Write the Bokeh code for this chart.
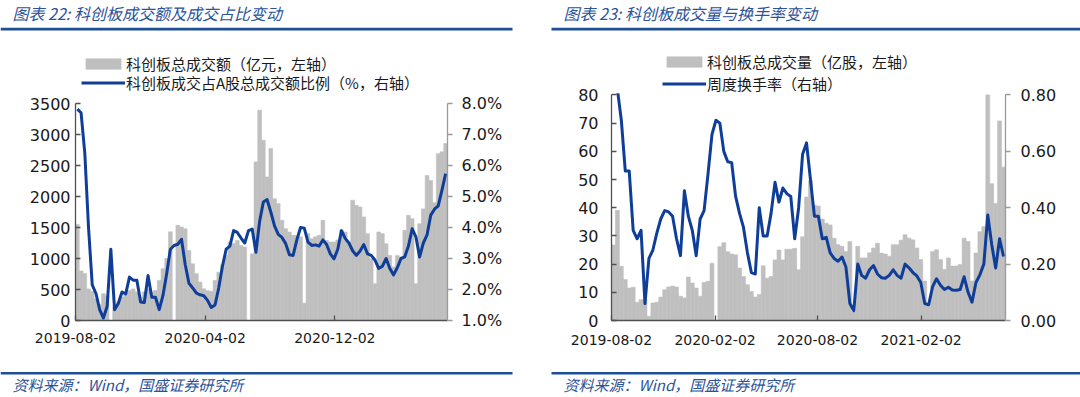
import pandas as pd
from bokeh.plotting import figure
from bokeh.models import (Range1d, LinearAxis, FixedTicker, PrintfTickFormatter,
                          DatetimeTickFormatter, Legend, LegendItem, Label,
                          BoxAnnotation, ColumnDataSource)
from bokeh.layouts import column, row
from bokeh.embed import file_html
from bokeh.resources import INLINE

# ---------------- data ----------------
start_date = "2019-08-02"   # first weekly observation

# 图表22: 科创板总成交额（亿元）
star_amount = [
    1550, 800, 760, 510, 470, 350, 260, 430, 400, 0,
    215, 300, 380, 460, 485, 510, 460, 380, 460, 510,
    460, 485, 646, 835, 1000, 1430, 0, 1535, 1508, 1480,
    1130, 915, 754, 620, 511, 480, 470, 646, 780, 900,
    1050, 1265, 1240, 1290, 1210, 1185, 0, 1077, 2558, 3392,
    2908, 2315, 2773, 1965, 1885, 1615, 1480, 1427, 1373, 1373,
    1350, 280, 1400, 1320, 1350, 1373, 1615, 1290, 1265, 1265,
    1300, 1454, 1427, 1265, 1940, 1858, 1830, 1670, 1400, 996,
    592, 1427, 1400, 1238, 1050, 862, 1050, 1023, 1454, 1696,
    1642, 592, 1560, 1800, 2340, 2260, 1900, 2690, 2720, 2854,
]
# 科创板成交占A股总成交额比例（%）
star_share_pct = [
    7.82, 7.70, 6.40, 4.00, 2.15, 1.87, 1.35, 1.08, 1.45, 3.30,
    1.35, 1.55, 1.92, 1.86, 2.40, 2.30, 2.30, 1.60, 1.58, 2.45,
    1.75, 1.75, 1.35, 1.80, 2.50, 3.30, 3.42, 3.46, 3.62, 2.80,
    2.20, 2.05, 1.88, 1.83, 1.80, 1.65, 1.42, 1.50, 2.05, 2.75,
    3.30, 3.40, 3.90, 3.84, 3.66, 3.50, 3.90, 3.95, 3.20, 4.20,
    4.82, 4.90, 4.50, 4.05, 3.78, 3.68, 3.48, 3.12, 3.10, 3.60,
    4.00, 3.98, 3.53, 3.42, 3.44, 3.40, 3.60, 3.45, 3.15, 2.99,
    3.30, 3.90, 3.65, 3.50, 3.25, 3.10, 3.24, 3.45, 3.15, 3.10,
    2.95, 2.68, 2.75, 3.00, 2.68, 2.47, 2.70, 3.00, 3.05, 3.40,
    3.96, 3.70, 3.05, 3.50, 3.76, 4.40, 4.59, 4.70, 5.20, 5.74,
]

# 图表23: 科创板总成交量（亿股）
star_volume = [
    26.8, 39.1, 19.2, 14.5, 11.5, 11.8, 6.5, 7.4, 7.6, 1.5,
    6.2, 6.5, 8.3, 10.9, 11.9, 12.2, 11.9, 8.6, 8.0, 15.4,
    13.3, 11.5, 8.6, 13.5, 13.9, 20.3, 0.0, 26.2, 27.6, 24.4,
    23.6, 23.3, 18.6, 15.6, 12.7, 10.3, 8.3, 9.2, 19.4, 15.0,
    15.6, 21.5, 25.0, 21.5, 25.3, 25.3, 25.6, 18.0, 29.7, 43.8,
    49.6, 40.9, 40.6, 36.0, 34.5, 33.9, 29.2, 26.9, 26.3, 24.5,
    28.0, 3.0, 26.3, 22.2, 22.2, 24.0, 25.7, 27.4, 23.9, 23.6,
    22.8, 26.9, 26.9, 28.5, 30.4, 29.2, 28.6, 25.7, 21.6, 14.0,
    5.8, 24.5, 25.1, 21.6, 18.1, 22.2, 19.3, 19.3, 19.9, 29.2,
    28.0, 14.0, 23.9, 31.5, 33.3, 80.0, 48.5, 41.5, 70.8, 54.4,
]
# 周度换手率
weekly_turnover = [
    0.95, 0.82, 0.71, 0.53, 0.53, 0.32, 0.29, 0.32, 0.06, 0.22,
    0.25, 0.31, 0.36, 0.39, 0.385, 0.37, 0.29, 0.23, 0.46, 0.37,
    0.32, 0.23, 0.36, 0.39, 0.52, 0.66, 0.71, 0.70, 0.60, 0.563,
    0.56, 0.44, 0.38, 0.33, 0.24, 0.17, 0.165, 0.40, 0.30, 0.30,
    0.38, 0.49, 0.42, 0.47, 0.45, 0.44, 0.29, 0.40, 0.59, 0.63,
    0.50, 0.37, 0.37, 0.29, 0.295, 0.24, 0.22, 0.21, 0.225, 0.19,
    0.06, 0.035, 0.20, 0.16, 0.15, 0.18, 0.195, 0.165, 0.152, 0.15,
    0.16, 0.18, 0.16, 0.15, 0.20, 0.187, 0.17, 0.158, 0.135, 0.06,
    0.056, 0.12, 0.148, 0.125, 0.11, 0.118, 0.108, 0.107, 0.11, 0.155,
    0.10, 0.065, 0.135, 0.162, 0.20, 0.374, 0.27, 0.186, 0.29, 0.227,
]

left_x_ticks = ["2019-08-02", "2020-04-02", "2020-12-02"]
right_x_ticks = ["2019-08-02", "2020-02-02", "2020-08-02", "2021-02-02"]
amount_ticks = [0, 500, 1000, 1500, 2000, 2500, 3000, 3500]
share_ticks = [1, 2, 3, 4, 5, 6, 7, 8]
volume_ticks = [0, 10, 20, 30, 40, 50, 60, 70, 80]
turnover_ticks = [0.0, 0.2, 0.4, 0.6, 0.8]

title_left = "图表 22:  科创板成交额及成交占比变动"
title_right = "图表 23:  科创板成交量与换手率变动"
legend_left = ["科创板总成交额（亿元，左轴）", "科创板成交占A股总成交额比例（%，右轴）"]
legend_right = ["科创板总成交量（亿股，左轴）", "周度换手率（右轴）"]
source_note = "资料来源：Wind，国盛证券研究所"

# ---------------- styles ----------------
GRAY = "#bfbfbf"
LINE_BLUE = "#0f3e99"
TEXT_BLUE = "#2c5298"
RULE_BLUE = "#1e4e94"
AXIS_DARK = "#505050"
AXIS_LIGHT = "#9a9a9a"
LABEL_COLOR = "#1a1a1a"
CJK = "Noto Sans CJK SC"
NUM_FONT = "DejaVu Sans"
COL_W = 540
CHART_H = 320
DAY_MS = 86400000.0


def to_ms(s):
    return pd.Timestamp(s).value / 1e6


def plain_fig(height):
    f = figure(width=COL_W, height=height, x_range=Range1d(0, COL_W),
               y_range=Range1d(0, height), output_backend="svg",
               toolbar_location=None, min_border=0, x_axis_location=None,
               y_axis_location=None, outline_line_color=None,
               background_fill_color="white", border_fill_color="white")
    f.grid.visible = False
    return f


def header(text, text_x, rule_l, rule_r):
    h = plain_fig(40)
    h.add_layout(Label(x=text_x, y=27.5, text=text, text_font=CJK,
                       text_font_style="italic", text_font_size="16px",
                       text_color=TEXT_BLUE, text_baseline="middle"))
    h.add_layout(BoxAnnotation(left=rule_l, right=rule_r, bottom=10, top=12.7,
                               fill_color=RULE_BLUE, fill_alpha=1,
                               line_color=None))
    return h


def footer(text, text_x, rule_l, rule_r):
    f = plain_fig(37)
    f.add_layout(BoxAnnotation(left=rule_l, right=rule_r, bottom=23, top=25.4,
                               fill_color=RULE_BLUE, fill_alpha=1,
                               line_color=None))
    f.add_layout(Label(x=text_x, y=13, text=text, text_font=CJK,
                       text_font_style="italic", text_font_size="15px",
                       text_color=TEXT_BLUE, text_baseline="middle"))
    return f


def make_legend(label, renderer, loc):
    return Legend(items=[LegendItem(label=label, renderers=[renderer])],
                  location=loc, orientation="vertical",
                  border_line_color=None, background_fill_alpha=0,
                  label_text_font=CJK, label_text_font_size="15px",
                  label_text_color=LABEL_COLOR,
                  glyph_width=44, glyph_height=13, label_height=20,
                  label_standoff=1, padding=0, margin=0, spacing=0)


def chart(bars, line, y_max, y_ticks, r_range, r_ticks, r_fmt, x_ticks,
          labels, borders, plot_top, legend_locs, left_standoff,
          right_standoff, x_standoff):
    weeks = pd.date_range(start_date, periods=len(bars), freq="7D")
    centers = weeks + pd.Timedelta(days=3.5)
    src = ColumnDataSource(dict(x=centers, bar=bars, line=line))
    x0 = to_ms(start_date)
    x1 = x0 + 7 * len(bars) * DAY_MS
    bl, br, bt, bb = borders
    # the frame reaches up to the legend; axes are bounded at their maxima
    frame_h = CHART_H - bt - bb
    ext = frame_h / plot_top
    r_lo, r_hi = r_range
    p = figure(width=COL_W, height=CHART_H, x_axis_type="datetime",
               x_range=Range1d(x0, x1), y_range=Range1d(0, y_max * ext),
               output_backend="svg", toolbar_location=None,
               min_border_left=bl, min_border_right=br, min_border_top=bt,
               min_border_bottom=bb, outline_line_color=None,
               background_fill_color="white", border_fill_color="white")
    p.grid.visible = False
    p.extra_y_ranges = {"right": Range1d(r_lo, r_lo + (r_hi - r_lo) * ext)}
    raxis = LinearAxis(y_range_name="right", ticker=FixedTicker(ticks=r_ticks),
                       formatter=PrintfTickFormatter(format=r_fmt),
                       bounds=(r_lo, r_hi))
    p.add_layout(raxis, "right")

    rb = p.vbar(x="x", top="bar", width=7 * DAY_MS, source=src,
                fill_color=GRAY, line_color=GRAY, line_width=0.6)
    rl = p.line(x="x", y="line", source=src, y_range_name="right",
                line_color=LINE_BLUE, line_width=3, line_join="round")

    # plot area ends at the top tick: hide anything drawn above it
    p.add_layout(BoxAnnotation(bottom=y_max * 1.008, fill_color="white",
                               fill_alpha=1, line_color=None))

    la = p.left[0]
    la.ticker = FixedTicker(ticks=y_ticks)
    la.bounds = (0, y_max)
    la.major_tick_in = 5
    la.major_tick_out = 0
    la.major_label_standoff = left_standoff
    la.axis_line_color = AXIS_DARK
    la.major_tick_line_color = AXIS_DARK

    raxis.major_tick_in = 0
    raxis.major_tick_out = 5
    raxis.major_label_standoff = right_standoff
    raxis.axis_line_color = AXIS_LIGHT
    raxis.major_tick_line_color = AXIS_LIGHT

    xa = p.xaxis[0]
    xa.ticker = FixedTicker(ticks=[to_ms(d) for d in x_ticks])
    fmt = "%Y-%m-%d"
    xa.formatter = DatetimeTickFormatter(days=fmt, months=fmt, years=fmt,
                                         hours=fmt, hourmin=fmt)
    xa.major_tick_in = 5
    xa.major_tick_out = 0
    xa.major_label_standoff = x_standoff
    xa.axis_line_color = AXIS_DARK
    xa.major_tick_line_color = AXIS_DARK

    for ax in (la, raxis):
        ax.major_label_text_font = NUM_FONT
        ax.major_label_text_font_size = "16px"
    xa.major_label_text_font = NUM_FONT
    xa.major_label_text_font_size = "14px"
    for ax in (la, raxis, xa):
        ax.minor_tick_line_color = None
        ax.axis_line_width = 1.3
        ax.major_tick_line_width = 1.3
        ax.major_label_text_color = LABEL_COLOR

    p.add_layout(make_legend(labels[0], rb, legend_locs[0]))
    p.add_layout(make_legend(labels[1], rl, legend_locs[1]))
    return p


# borders: left, right, top, bottom (px); plot_top: px from frame bottom to top tick
left_chart = chart(star_amount, star_share_pct, 3500, amount_ticks, (1, 8),
                   share_ticks, "%.1f%%", left_x_ticks, legend_left,
                   (75, 93, 5, 40), 217, [(6, 246), (6, 227)], 5, 9, 12)
right_chart = chart(star_volume, weekly_turnover, 80, volume_ticks, (0, 0.8),
                    turnover_ticks, "%.2f", right_x_ticks, legend_right,
                    (71, 75, 5, 37), 228, [(51, 248), (51, 226)], 13, 10, 14)

layout = column(
    row(header(title_left, 12, 0, 512), header(title_right, 23, 11, COL_W)),
    row(left_chart, right_chart),
    row(footer(source_note, 12, 0, 512), footer(source_note, 23, 11, COL_W)),
)

open("out.html", "w").write(file_html(layout, INLINE))
